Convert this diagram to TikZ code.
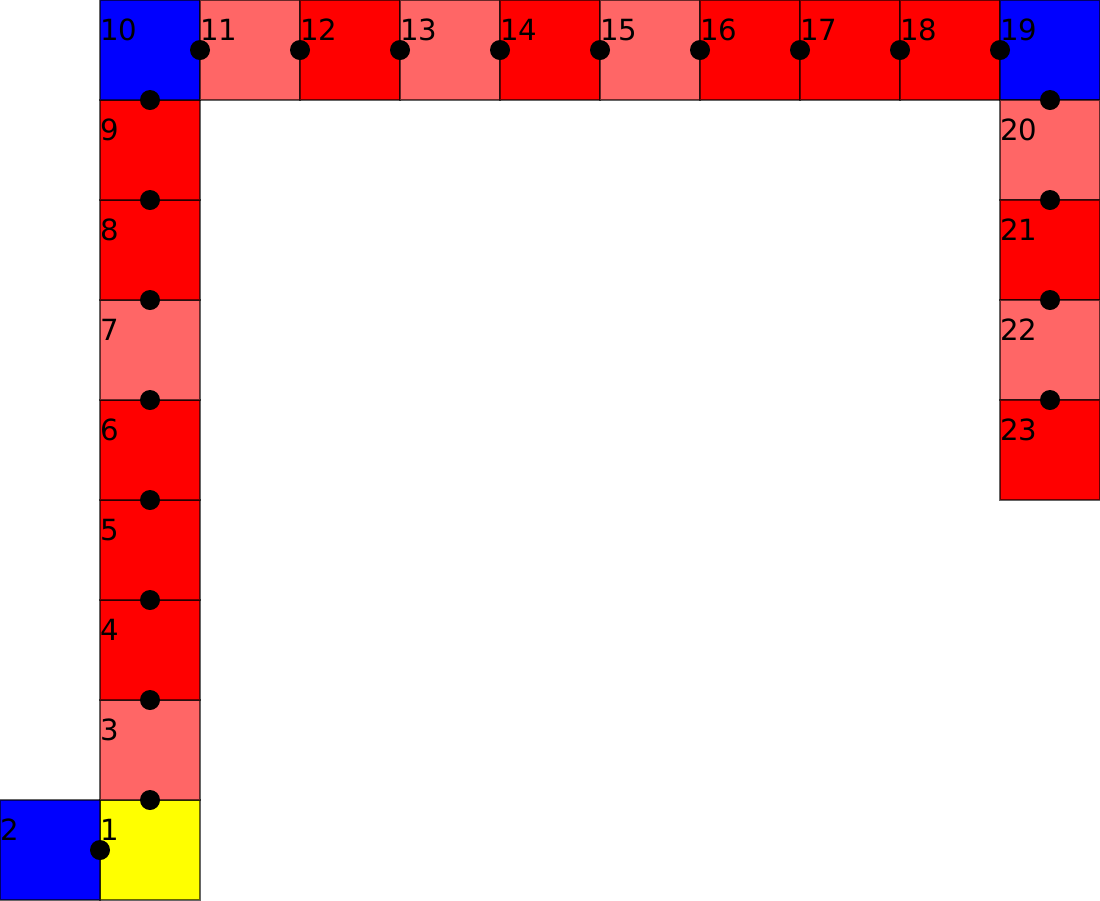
\documentclass[tikz,border=0pt]{standalone}
\usepackage{fontspec}
\setmainfont{DejaVu Sans}
\definecolor{cblue}{HTML}{0000FF}
\definecolor{cred}{HTML}{FF0000}
\definecolor{clight}{HTML}{FF6666}
\definecolor{cyellow}{HTML}{FFFF00}
\tikzset{
  cell/.style={draw=black, draw opacity=0.6, line width=0.35pt, minimum size=1cm, inner sep=0pt, outer sep=0pt},
  lbl/.style={anchor=base west, inner sep=0pt, outer sep=0pt, font=\fontsize{8.3}{10}\selectfont},
  dot/.style={fill=black, circle, minimum size=0.2cm, inner sep=0pt}
}
\begin{document}
\begin{tikzpicture}[x=1cm,y=-1cm]
\useasboundingbox (0,0) rectangle (11,9);
\foreach \n/\x/\y/\c in {1/1/8/cyellow,2/0/8/cblue,3/1/7/clight,4/1/6/cred,5/1/5/cred,6/1/4/cred,7/1/3/clight,8/1/2/cred,9/1/1/cred,10/1/0/cblue,11/2/0/clight,12/3/0/cred,13/4/0/clight,14/5/0/cred,15/6/0/clight,16/7/0/cred,17/8/0/cred,18/9/0/cred,19/10/0/cblue,20/10/1/clight,21/10/2/cred,22/10/3/clight,23/10/4/cred}{
  \node[cell, fill=\c] (c\n) at (\x+0.5,\y+0.5) {};
}
% connectors between consecutive cells
\node[dot] (d21) at (c1.west) {};
\foreach \k in {1,3,4,5,6,7,8,9}{
  \node[dot] (dn\k) at (c\k.north) {};
}
\foreach \k in {10,11,12,13,14,15,16,17,18}{
  \node[dot] (de\k) at (c\k.east) {};
}
\foreach \k in {19,20,21,22}{
  \node[dot] (ds\k) at (c\k.south) {};
}
\foreach \n in {1,...,23}{
  \node[lbl] (l\n) at ([yshift=-0.4cm]c\n.north west) {\n};
}
\end{tikzpicture}
\end{document}
